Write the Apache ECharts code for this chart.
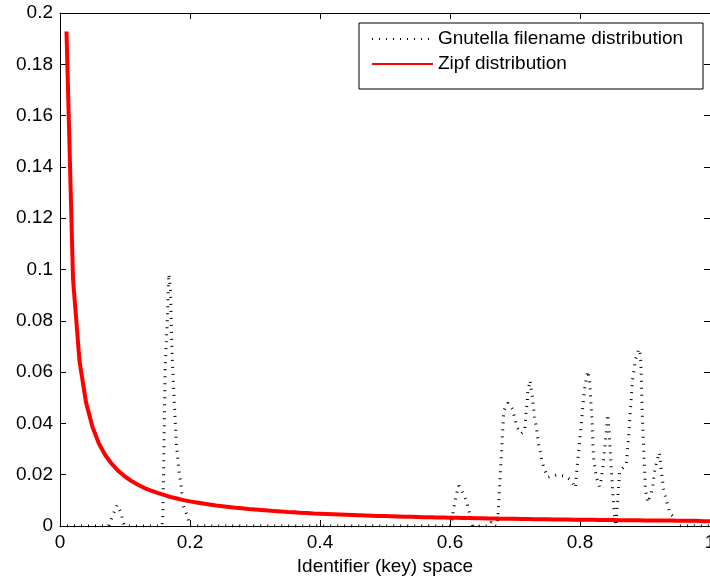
<!DOCTYPE html>
<html>
<head>
<meta charset="utf-8">
<script src="https://cdn.jsdelivr.net/npm/echarts@6/dist/echarts.min.js"></script>
<style>
html,body{margin:0;padding:0;background:#fff;overflow:hidden;}
#c{width:710px;height:583px;}
</style>
</head>
<body>
<div id="c"></div>
<script>
var seriesNames = ['Gnutella filename distribution', 'Zipf distribution'];
var xTickLabels = ['0', '0.2', '0.4', '0.6', '0.8', '1'];
var yTickLabels = ['0', '0.02', '0.04', '0.06', '0.08', '0.1', '0.12', '0.14', '0.16', '0.18', '0.2'];
var xAxisName = 'Identifier (key) space';

var gnuX = [0, 0.075, 0.082, 0.088, 0.094, 0.097, 0.100, 0.157, 0.1582, 0.1618, 0.165, 0.1674, 0.170, 0.172, 0.1735, 0.1762, 0.1788, 0.1828, 0.1865, 0.1889, 0.1942, 0.1982, 0.2,
  0.6, 0.602, 0.607, 0.6095, 0.6135, 0.6208, 0.6258, 0.629, 0.635, 0.660, 0.6634, 0.667, 0.673, 0.6828, 0.6889, 0.6963, 0.6997, 0.703, 0.7095,
  0.7146, 0.716, 0.717, 0.7187, 0.72, 0.7234, 0.725, 0.7269, 0.730, 0.7326, 0.7362, 0.7388, 0.7412, 0.7454, 0.7505, 0.764, 0.776, 0.786, 0.793,
  0.794, 0.7992, 0.8018, 0.8043, 0.807, 0.8095, 0.812, 0.8146, 0.8172, 0.8188, 0.8197, 0.8212, 0.825, 0.830,
  0.8326, 0.835, 0.8377, 0.8403, 0.8418, 0.8428, 0.845, 0.847, 0.849, 0.851, 0.853, 0.855,
  0.858, 0.861, 0.8711, 0.8746, 0.8775, 0.8808, 0.8855, 0.8905, 0.8931, 0.8942, 0.8951, 0.8966, 0.8982, 0.9008, 0.9043,
  0.9095, 0.912, 0.9157, 0.9197, 0.9223, 0.9249, 0.9285, 0.9315, 0.9351, 0.9388, 0.9465, 0.9531, 1.0];
var gnuY = [0, 0, 0.0047, 0.0082, 0.005, 0.0013, 0, 0, 0.0036, 0.061, 0.08, 0.0982, 0.0924, 0.0713, 0.0608, 0.0465, 0.0329, 0.0218, 0.0153, 0.0082, 0.005, 0.0017, 0,
  0, 0.001, 0.0086, 0.012, 0.0157, 0.0125, 0.0094, 0.006, 0, 0, 0.0015, 0, 0, 0.045, 0.048, 0.0456, 0.042, 0.0386, 0.036,
  0.037, 0.0407, 0.0442, 0.048, 0.053, 0.0567, 0.053, 0.050, 0.0425, 0.039, 0.032, 0.029, 0.0255, 0.022, 0.019, 0.0199, 0.0195, 0.018, 0.0149,
  0.0187, 0.0325, 0.039, 0.0465, 0.0534, 0.0569, 0.0604, 0.0569, 0.0465, 0.0394, 0.0324, 0.0257, 0.0192, 0.0153,
  0.0179, 0.0225, 0.0296, 0.0361, 0.0413, 0.0435, 0.036, 0.027, 0.019, 0.011, 0.004, 0,
  0.01, 0.0215, 0.0238, 0.034, 0.045, 0.057, 0.065, 0.069, 0.0667, 0.0596, 0.049, 0.0387, 0.0283, 0.014, 0.0091,
  0.0127, 0.016, 0.0229, 0.0265, 0.0286, 0.0218, 0.0147, 0.0114, 0.0079, 0.0047, 0.0032, 0, 0];

var zipfX = [0.01,0.02,0.03,0.04,0.05,0.06,0.07,0.08,0.09,0.10,0.11,0.12,0.13,0.14,0.15,0.16,0.17,0.18,0.19,0.20,
  0.21,0.22,0.23,0.24,0.25,0.26,0.27,0.28,0.29,0.30,0.31,0.32,0.33,0.34,0.35,0.36,0.37,0.38,0.39,0.40,
  0.41,0.42,0.43,0.44,0.45,0.46,0.47,0.48,0.49,0.50,0.51,0.52,0.53,0.54,0.55,0.56,0.57,0.58,0.59,0.60,
  0.61,0.62,0.63,0.64,0.65,0.66,0.67,0.68,0.69,0.70,0.71,0.72,0.73,0.74,0.75,0.76,0.77,0.78,0.79,0.80,
  0.81,0.82,0.83,0.84,0.85,0.86,0.87,0.88,0.89,0.90,0.91,0.92,0.93,0.94,0.95,0.96,0.97,0.98,0.99,1.00];
var zipfY = [0.1928,0.0964,0.0643,0.0482,0.0386,0.0321,0.0275,0.0241,0.0214,0.0193,0.0175,0.0161,0.0148,0.0138,0.0129,0.0121,0.0113,0.0107,0.0101,0.0096,
  0.0092,0.0088,0.0084,0.0080,0.0077,0.0074,0.0071,0.0069,0.0066,0.0064,0.0062,0.0060,0.0058,0.0057,0.0055,0.0054,0.0052,0.0051,0.0049,0.0048,
  0.0047,0.0046,0.0045,0.0044,0.0043,0.0042,0.0041,0.0040,0.0039,0.0039,0.0038,0.0037,0.0036,0.0036,0.0035,0.0034,0.0034,0.0033,0.0033,0.0032,
  0.0032,0.0031,0.0031,0.0030,0.0030,0.0029,0.0029,0.0028,0.0028,0.0028,0.0027,0.0027,0.0026,0.0026,0.0026,0.0025,0.0025,0.0025,0.0024,0.0024,
  0.0024,0.0024,0.0023,0.0023,0.0023,0.0022,0.0022,0.0022,0.0022,0.0021,0.0021,0.0021,0.0021,0.0021,0.0020,0.0020,0.0020,0.0020,0.0019,0.0019];

function zip(a, b) { return a.map(function (v, i) { return [v, b[i]]; }); }

var FONT = 'Liberation Sans';
var FS = 19;
var chart = echarts.init(document.getElementById('c'), null, {renderer: 'canvas', width: 710, height: 583});

function xl(v) { return xTickLabels[Math.round(v / 0.2)]; }
function yl(v) { return yTickLabels[Math.round(v / 0.02)]; }

var axisCommon = {
  axisLine: {show: true, onZero: false, lineStyle: {color: '#000', width: 1}},
  axisTick: {show: true, inside: true, length: 6, lineStyle: {color: '#000', width: 1}},
  splitLine: {show: false}
};

var option = {
  backgroundColor: '#fff',
  animation: false,
  grid: {left: 60, right: 0, top: 13, bottom: 57, containLabel: false, outerBoundsMode: 'none'},
  legend: {
    show: true,
    left: 359, top: 23,
    orient: 'vertical',
    data: seriesNames,
    backgroundColor: '#fff',
    borderColor: '#000', borderWidth: 1, borderRadius: 0,
    padding: [6, 20, 15, 12],
    itemWidth: 61, itemHeight: 14, itemGap: 5,
    itemStyle: {opacity: 0},
    textStyle: {fontFamily: FONT, fontSize: FS, color: '#000', lineHeight: 20, padding: [0, 0, 0, 0]}
  },
  xAxis: [
    Object.assign({}, axisCommon, {
      type: 'value', position: 'bottom', min: 0, max: 1, interval: 0.2,
      name: xAxisName, nameLocation: 'middle', nameGap: 28,
      nameTextStyle: {fontFamily: FONT, fontSize: FS, color: '#000'},
      axisLabel: {fontFamily: FONT, fontSize: FS, color: '#000', margin: 7, formatter: xl}
    }),
    Object.assign({}, axisCommon, {
      type: 'value', position: 'top', min: 0, max: 1, interval: 0.2,
      axisLabel: {show: false}
    })
  ],
  yAxis: [
    Object.assign({}, axisCommon, {
      type: 'value', position: 'left', min: 0, max: 0.2, interval: 0.02,
      axisLabel: {fontFamily: FONT, fontSize: FS, color: '#000', margin: 7, formatter: yl}
    }),
    Object.assign({}, axisCommon, {
      type: 'value', position: 'right', min: 0, max: 0.2, interval: 0.02,
      axisLabel: {show: false}
    })
  ],
  series: [
    {
      name: seriesNames[0], type: 'line', xAxisIndex: 0, yAxisIndex: 0,
      data: zip(gnuX, gnuY),
      symbol: 'none', showSymbol: false, smooth: false,
      lineStyle: {color: '#000', width: 3, type: [1, 6], cap: 'butt'},
      itemStyle: {color: '#000'},
      z: 2
    },
    {
      name: seriesNames[1], type: 'line', xAxisIndex: 0, yAxisIndex: 0,
      data: zip(zipfX, zipfY),
      symbol: 'none', showSymbol: false, smooth: false,
      lineStyle: {color: '#ff0000', width: 4},
      itemStyle: {color: '#ff0000'},
      z: 3
    }
  ]
};
chart.setOption(option);
</script>
</body>
</html>
